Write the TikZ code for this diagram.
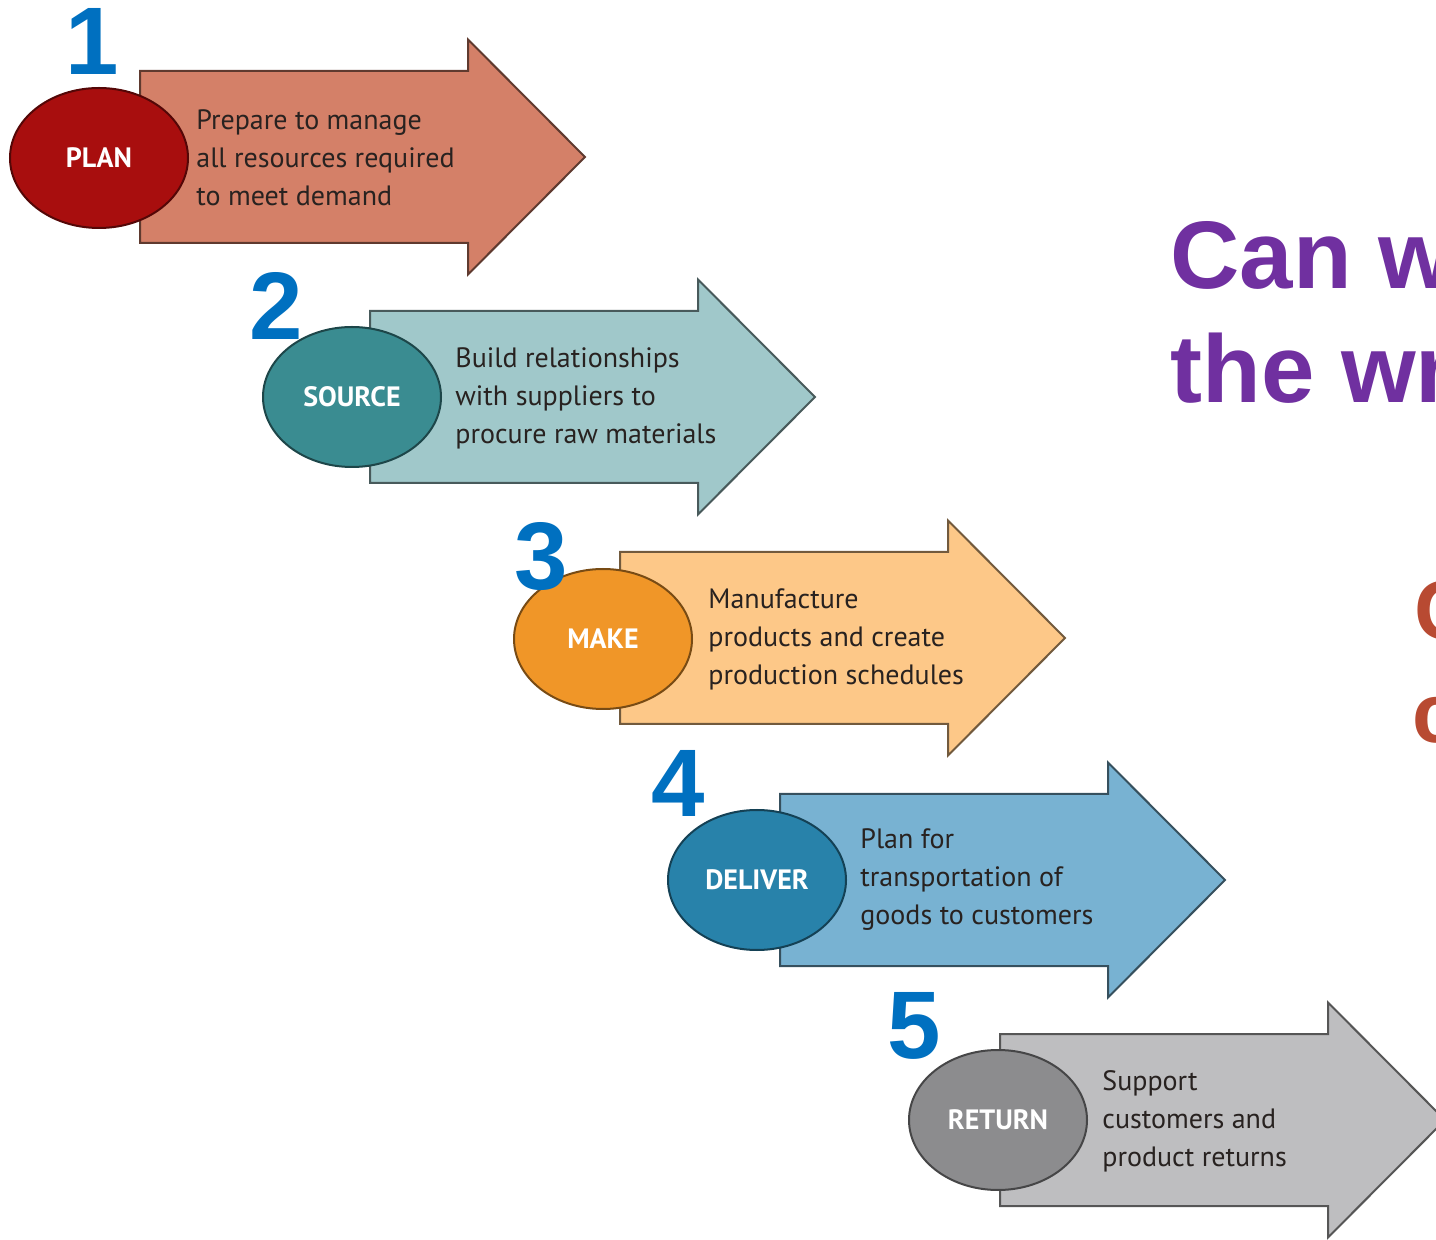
\documentclass[tikz,border=0pt]{standalone}
\usepackage{fontspec}
\setmainfont{PT Sans}
\newfontfamily\arialfont{Liberation Sans}
\usetikzlibrary{positioning,
        shapes.geometric}
\usepackage{xcolor}
\definecolor{planfill}{RGB}{212,128,104}
\definecolor{plandark}{RGB}{168,14,14}
\definecolor{sourcefill}{RGB}{160,200,202}
\definecolor{sourcedark}{RGB}{58,140,145}
\definecolor{makefill}{RGB}{253,200,136}
\definecolor{makedark}{RGB}{240,150,40}
\definecolor{deliverfill}{RGB}{120,178,210}
\definecolor{deliverdark}{RGB}{40,130,170}
\definecolor{returnfill}{RGB}{190,190,192}
\definecolor{returndark}{RGB}{140,140,142}
\definecolor{blurbtext}{RGB}{40,34,32}
\definecolor{stepblue}{RGB}{0,112,192}
\definecolor{askpurple}{RGB}{112,48,160}
\definecolor{askred}{RGB}{184,74,50}

\begin{document}
\begin{tikzpicture}[x=0.5pt,y=-0.5pt,
        chevron/.style={fill=#1, draw=#1!45!black, line width=1pt, line join=miter},
        stage/.style={ellipse, draw=#1!50!black, fill=#1, line width=1pt,
                minimum width=89pt, minimum height=70pt, inner sep=0pt,
                text=white, font=\bfseries\fontsize{14}{16}\selectfont},
        blurb/.style={anchor=west, align=left, inner sep=0pt, text=blurbtext,
                font=\fontsize{14}{19}\selectfont},
        stepno/.style={anchor=base, inner sep=0pt, text=stepblue,
                font=\arialfont\bfseries\fontsize{48}{48}\selectfont},
        ask/.style={anchor=base west, inner sep=0pt, text=#1,
                font=\arialfont\bfseries\fontsize{48}{57}\selectfont}]
            \useasboundingbox (0,0) rectangle (1436,1240);
            \clip (0,0) rectangle (1436,1240);

            % arrows
            \draw [chevron=planfill] (140,71) -- ++(328,0) -- ++(0,-31.5) -- ++(117,117.5) -- ++(-117,117.5) -- ++(0,-31.5) -- ++(-328,0) -- cycle;
            \draw [chevron=sourcefill] (370,311) -- ++(328,0) -- ++(0,-31.5) -- ++(117,117.5) -- ++(-117,117.5) -- ++(0,-31.5) -- ++(-328,0) -- cycle;
            \draw [chevron=makefill] (620,552) -- ++(328,0) -- ++(0,-31.5) -- ++(117,117.5) -- ++(-117,117.5) -- ++(0,-31.5) -- ++(-328,0) -- cycle;
            \draw [chevron=deliverfill] (780,794) -- ++(328,0) -- ++(0,-31.5) -- ++(117,117.5) -- ++(-117,117.5) -- ++(0,-31.5) -- ++(-328,0) -- cycle;
            \draw [chevron=returnfill] (1000,1034) -- ++(328,0) -- ++(0,-31.5) -- ++(117,117.5) -- ++(-117,117.5) -- ++(0,-31.5) -- ++(-328,0) -- cycle;

            % stages
            \node [stage=plandark] (plan) at (99,158) {PLAN};
            \node [stage=sourcedark] (source) at (352,397) {SOURCE};
            \node [stage=makedark] (make) at (603,639) {MAKE};
            \node [stage=deliverdark] (deliver) at (757,880) {DELIVER};
            \node [stage=returndark] (return) at (998,1120) {RETURN};

            \node [blurb] (plantxt) at (196,158) {Prepare to manage\\all resources required\\to meet demand};
            \node [blurb] (sourcetxt) at (455,398) {Build relationships\\with suppliers to\\procure raw materials};
            \node [blurb] (maketxt) at (708,639) {Manufacture\\products and create\\production schedules};
            \node [blurb] (delivertxt) at (860,880) {Plan for\\transportation of\\goods to customers};
            \node [blurb] (returntxt) at (1102,1121) {Support\\customers and\\product returns};

            % step numbers
            \node [stepno] (n1) at (92,75) {1};
            \node [stepno] (n2) at (276,340) {2};
            \node [stepno] (n3) at (541,590) {3};
            \node [stepno] (n4) at (678,817) {4};
            \node [stepno] (n5) at (914,1058) {5};

            \node [ask=askpurple] (ask1) at (1170,289) {Can w};
            \node [ask=askpurple] (ask2) at (1170,403) {the wr};
            \node [ask=askred, font=\arialfont\bfseries\fontsize{42}{42}\selectfont] (ask3) at (1414,640) {C};
            \node [ask=askred, font=\arialfont\bfseries\fontsize{42}{42}\selectfont] (ask4) at (1412,743) {c};
        \end{tikzpicture}
\end{document}
